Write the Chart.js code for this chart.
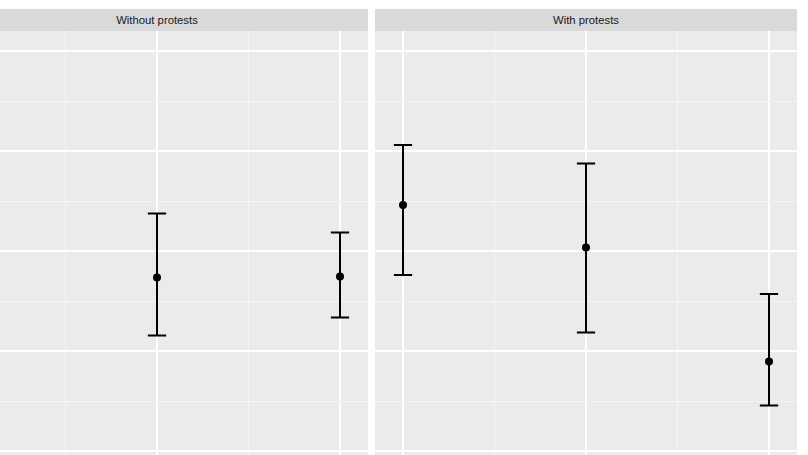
<!DOCTYPE html>
<html>
<head>
<meta charset="utf-8">
<script src="https://cdn.jsdelivr.net/npm/chart.js@4.4.1/dist/chart.umd.min.js"></script>
<style>
  html, body { margin: 0; padding: 0; background: #ffffff; overflow: hidden; width: 808px; height: 455px; }
  .wrap { position: absolute; left: 0; top: 0; width: 808px; height: 455px; overflow: hidden; }
  .strip { position: absolute; top: 9px; height: 22px; background: #D9D9D9; color: #1A1A1A;
           font-family: "Liberation Sans", Arial, sans-serif; font-size: 11.3px; line-height: 23px; text-align: center; }
  canvas { position: absolute; top: 31px; }
</style>
</head>
<body>
<div class="wrap">
  <div class="strip" id="s1" style="left:-54px;width:422px;"></div>
  <div class="strip" id="s2" style="left:375px;width:422px;"></div>
  <canvas id="c1" width="422" height="424" style="left:-54px;"></canvas>
  <canvas id="c2" width="422" height="424" style="left:375px;"></canvas>
</div>
<script>
// ---- data ----
const panelTitles = ["Without protests", "With protests"];
const withoutX = [1, 2];
const withoutEst = [-0.053, -0.051];
const withoutLo = [-0.169, -0.133];
const withoutHi = [0.075, 0.037];
const withX = [0, 1, 2];
const withEst = [0.092, 0.007, -0.221];
const withLo = [-0.048, -0.163, -0.309];
const withHi = [0.212, 0.175, -0.086];
const xRange = [-0.153, 2.153];
const yRange = [-0.408, 0.44];

document.getElementById('s1').textContent = panelTitles[0];
document.getElementById('s2').textContent = panelTitles[1];

const bgPlugin = {
  id: 'panelBg',
  beforeDraw(chart) {
    const { ctx, chartArea: a } = chart;
    ctx.save();
    ctx.fillStyle = '#EBEBEB';
    ctx.fillRect(a.left, a.top, a.right - a.left, a.bottom - a.top);
    ctx.restore();
  }
};

const errPlugin = {
  id: 'errBars',
  beforeDatasetsDraw(chart) {
    const { ctx } = chart;
    const xs = chart.scales.x, ys = chart.scales.y;
    const eb = chart.options.plugins.errBars;
    ctx.save();
    ctx.strokeStyle = '#000000';
    ctx.lineWidth = 2;
    eb.x.forEach((xv, i) => {
      const px = xs.getPixelForValue(xv);
      const pl = xs.getPixelForValue(xv - 0.05);
      const pr = xs.getPixelForValue(xv + 0.05);
      const yl = ys.getPixelForValue(eb.lo[i]);
      const yh = ys.getPixelForValue(eb.hi[i]);
      ctx.beginPath();
      ctx.moveTo(px, yl); ctx.lineTo(px, yh);
      ctx.moveTo(pl, yl); ctx.lineTo(pr, yl);
      ctx.moveTo(pl, yh); ctx.lineTo(pr, yh);
      ctx.stroke();
    });
    ctx.restore();
  }
};

function isMult(v, step) {
  const r = v / step;
  return Math.abs(r - Math.round(r)) < 1e-6;
}

function makeChart(id, xs, est, lo, hi) {
  return new Chart(document.getElementById(id), {
    type: 'scatter',
    data: {
      datasets: [{
        data: xs.map((x, i) => ({ x: x, y: est[i] })),
        pointRadius: 4,
        pointHoverRadius: 4,
        pointBackgroundColor: '#000000',
        pointBorderColor: '#000000',
        pointBorderWidth: 0
      }]
    },
    options: {
      responsive: false,
      animation: false,
      devicePixelRatio: 1,
      layout: { padding: 0, autoPadding: false },
      events: [],
      plugins: {
        legend: { display: false },
        tooltip: { enabled: false },
        errBars: { x: xs, lo: lo, hi: hi }
      },
      scales: {
        x: {
          type: 'linear',
          min: xRange[0], max: xRange[1],
          ticks: { display: false, stepSize: 0.5, includeBounds: false },
          border: { display: false },
          grid: {
            drawTicks: false,
            color: ctx => isMult(ctx.tick.value, 1) ? '#FFFFFF' : '#F4F4F4',
            lineWidth: ctx => isMult(ctx.tick.value, 1) ? 2 : 1
          }
        },
        y: {
          type: 'linear',
          min: yRange[0], max: yRange[1],
          ticks: { display: false, stepSize: 0.1, includeBounds: false },
          border: { display: false },
          grid: {
            drawTicks: false,
            color: ctx => isMult(ctx.tick.value, 0.2) ? '#FFFFFF' : '#F4F4F4',
            lineWidth: ctx => isMult(ctx.tick.value, 0.2) ? 2 : 1
          }
        }
      }
    },
    plugins: [bgPlugin, errPlugin]
  });
}

makeChart('c1', withoutX, withoutEst, withoutLo, withoutHi);
makeChart('c2', withX, withEst, withLo, withHi);
</script>
</body>
</html>
